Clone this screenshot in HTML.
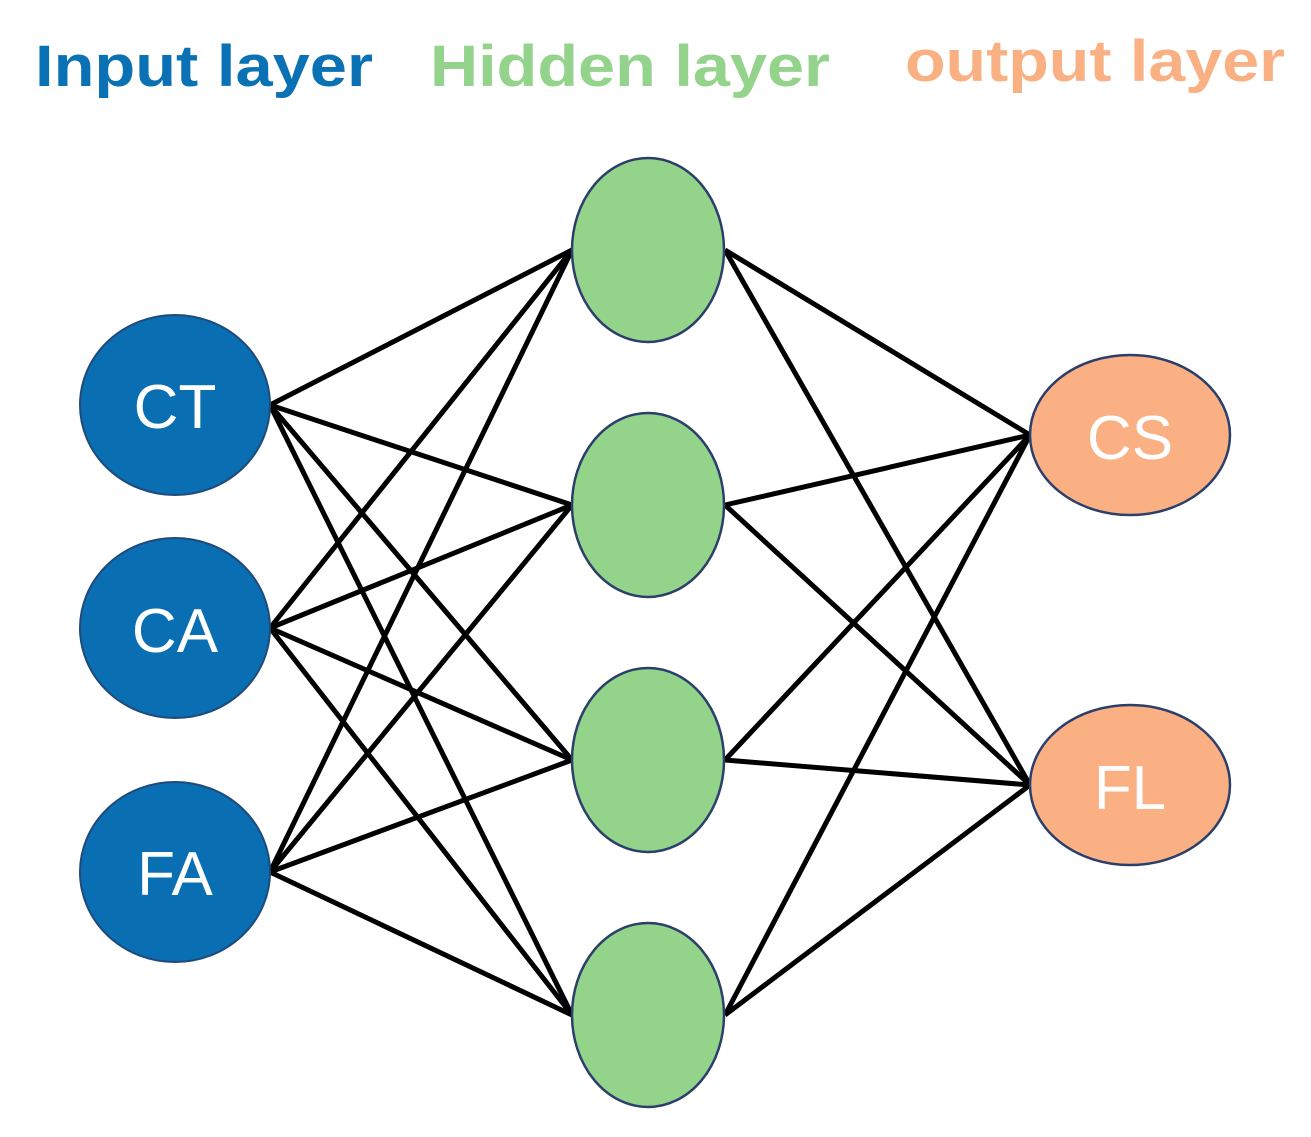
<!DOCTYPE html>
<html><head><meta charset="utf-8"><style>
html,body{margin:0;padding:0;background:#fff;}
svg{display:block;}
</style></head><body>
<svg width="1311" height="1137" viewBox="0 0 1311 1137" xmlns="http://www.w3.org/2000/svg">
<g font-family="Liberation Sans, sans-serif" font-weight="bold" font-size="58">
<text x="35" y="86" fill="#0a72b4" textLength="338" lengthAdjust="spacingAndGlyphs">Input layer</text>
<text x="430" y="86" fill="#94d38c" textLength="400" lengthAdjust="spacingAndGlyphs">Hidden layer</text>
<text x="905" y="81" fill="#f9b184" textLength="380" lengthAdjust="spacingAndGlyphs">output layer</text>
</g>
<g stroke="#000" stroke-width="5" fill="none">
<path d="M270 405L572 250M270 405L572 505M270 405L572 760M270 405L572 1015"/>
<path d="M270 628L572 250M270 628L572 505M270 628L572 760M270 628L572 1015"/>
<path d="M270 872L572 250M270 872L572 505M270 872L572 760M270 872L572 1015"/>
<path d="M725 250L1030 435M725 250L1030 785"/>
<path d="M725 505L1030 435M725 505L1030 785"/>
<path d="M725 760L1030 435M725 760L1030 785"/>
<path d="M725 1015L1030 435M725 1015L1030 785"/>
</g>
<g fill="#0a6eb2" stroke="#1f4a7a" stroke-width="2">
<ellipse cx="175" cy="405" rx="95" ry="90"/>
<ellipse cx="175" cy="628" rx="95" ry="90"/>
<ellipse cx="175" cy="872" rx="95" ry="90"/>
</g>
<g fill="#94d38a" stroke="#2b3f6a" stroke-width="2.5">
<ellipse cx="648" cy="250" rx="76" ry="92"/>
<ellipse cx="648" cy="505" rx="76" ry="92"/>
<ellipse cx="648" cy="760" rx="76" ry="92"/>
<ellipse cx="648" cy="1015" rx="76" ry="92"/>
</g>
<g fill="#fbb084" stroke="#2b3f6a" stroke-width="2.5">
<ellipse cx="1130" cy="435" rx="100" ry="80"/>
<ellipse cx="1130" cy="785" rx="100" ry="80"/>
</g>
<g font-family="Liberation Sans, sans-serif" font-size="62" fill="#fff" text-anchor="middle">
<text x="175" y="428">CT</text>
<text x="175" y="652">CA</text>
<text x="175" y="895">FA</text>
<text x="1130" y="459">CS</text>
<text x="1130" y="809">FL</text>
</g>
</svg>
</body></html>
